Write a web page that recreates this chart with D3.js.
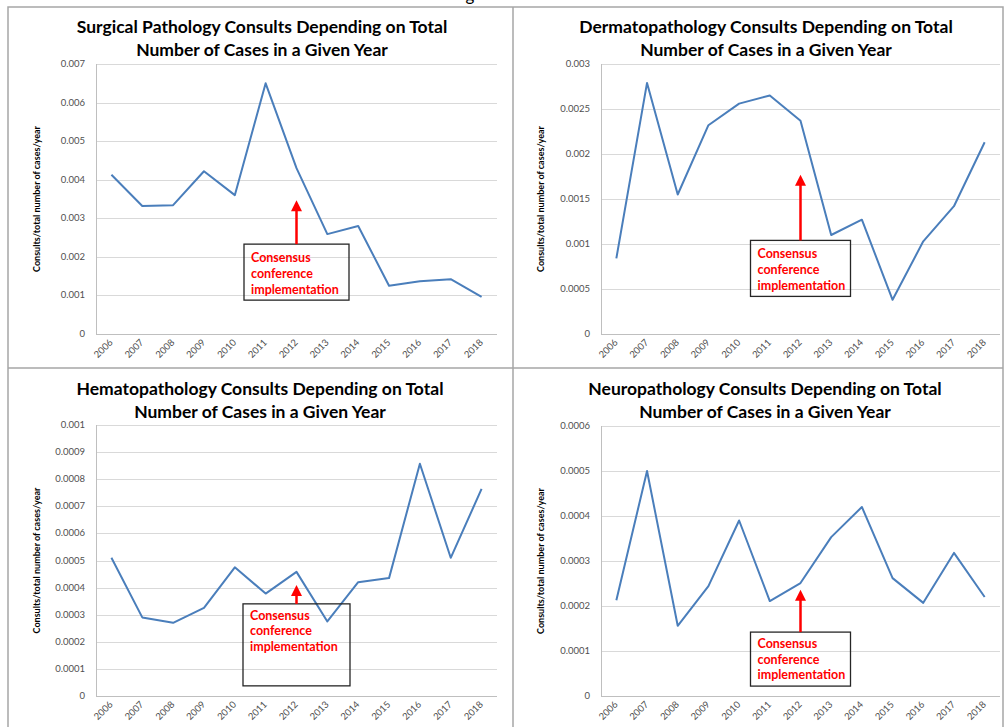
<!DOCTYPE html>
<html>
<head>
<meta charset="utf-8">
<script src="https://cdn.jsdelivr.net/npm/d3@7"></script>
<style>
	body { margin: 0; background: #fff; }
	svg { display: block; font-family: Lato, "Open Sans", sans-serif; }
	.grid line { stroke: #d9d9d9; stroke-width: 1; }
	.tick-label { fill: #505050; font-size: 9.5px; }
	.axis-title { font-size: 9px; font-weight: bold; fill: #000; }
	.panel-title { font-size: 17.5px; font-weight: bold; fill: #000; }
	.note { fill: #ff0000; font-size: 12.5px; font-weight: bold; }
</style>
</head>
<body>
<div id="chart"></div>
<script>
//Data
var years = ["2006", "2007", "2008", "2009", "2010", "2011", "2012", "2013", "2014", "2015", "2016", "2017", "2018"];
var surgical = [0.00413, 0.00332, 0.00334, 0.00422, 0.0036, 0.0065, 0.0043, 0.00259, 0.0028, 0.00125, 0.00137, 0.00142, 0.00096];
var dermato = [0.00084, 0.00279, 0.00155, 0.00232, 0.00256, 0.00265, 0.00237, 0.0011, 0.00127, 0.00038, 0.00103, 0.00142, 0.00213];
var hemato = [0.00051, 0.00029, 0.00027, 0.000325, 0.000475, 0.000378, 0.000458, 0.000275, 0.00042, 0.000435, 0.000857, 0.00051, 0.000764];
var neuro = [0.000213, 0.0005, 0.000156, 0.000244, 0.00039, 0.000211, 0.000251, 0.000353, 0.00042, 0.000262, 0.000207, 0.000318, 0.00022];
var surgicalTicks = [0, 0.001, 0.002, 0.003, 0.004, 0.005, 0.006, 0.007];
var dermatoTicks = [0, 0.0005, 0.001, 0.0015, 0.002, 0.0025, 0.003];
var hematoTicks = [0, 0.0001, 0.0002, 0.0003, 0.0004, 0.0005, 0.0006, 0.0007, 0.0008, 0.0009, 0.001];
var neuroTicks = [0, 0.0001, 0.0002, 0.0003, 0.0004, 0.0005, 0.0006];
var titles = [
	["Surgical Pathology Consults Depending on Total", "Number of Cases in a Given Year"],
	["Dermatopathology Consults Depending on Total", "Number of Cases in a Given Year"],
	["Hematopathology Consults Depending on Total", "Number of Cases in a Given Year"],
	["Neuropathology Consults Depending on Total", "Number of Cases in a Given Year"]
];
var yTitle = "Consults/total number of cases/year";
var noteLines = ["Consensus", "conference", "implementation"];
var noteYear = "2012";

var panels = [
	{title: titles[0], values: surgical, ticks: surgicalTicks, left: 96, right: 497, top: 64, bottom: 334, cx: 262, ty: 33, ax: 37,
		tip: 0.00347, boxTop: 0.00233, boxH: 56, boxW: 105, textTop: 18, lineH: 16},
	{title: titles[1], values: dermato, ticks: dermatoTicks, left: 601, right: 1000, top: 64, bottom: 334, cx: 766, ty: 33, ax: 541,
		tip: 0.00177, boxTop: 0.00104, boxH: 56, boxW: 100, textTop: 18, lineH: 16},
	{title: titles[2], values: hemato, ticks: hematoTicks, left: 96, right: 497, top: 425, bottom: 696, cx: 260, ty: 395, ax: 37,
		tip: 0.00041, boxTop: 0.00034, boxH: 82, boxW: 107, textTop: 16, lineH: 15.5},
	{title: titles[3], values: neuro, ticks: neuroTicks, left: 601, right: 1000, top: 426, bottom: 696, cx: 765, ty: 395, ax: 541,
		tip: 0.000236, boxTop: 0.000142, boxH: 54, boxW: 100, textTop: 16, lineH: 15.5}
];

var width = 1008, height = 727;
var svg = d3.select("#chart").append("svg")
	.attr("width", width)
	.attr("height", height);

//Cut-off text at the very top (only its descender shows, as in the source)
svg.append("text")
	.attr("x", 470).attr("y", 1)
	.attr("text-anchor", "middle")
	.style("font-size", "17px")
	.text("g");

//Frame
svg.append("rect")
	.attr("x", 8).attr("y", 7)
	.attr("width", 995).attr("height", 740)
	.attr("fill", "none").attr("stroke", "#a6a6a6").attr("stroke-width", 1.5);
svg.append("line")
	.attr("x1", 513).attr("x2", 513).attr("y1", 7).attr("y2", height)
	.attr("stroke", "#a6a6a6").attr("stroke-width", 1.5);
svg.append("line")
	.attr("x1", 8).attr("x2", 1003).attr("y1", 368).attr("y2", 368)
	.attr("stroke", "#a6a6a6").attr("stroke-width", 1.5);

var fmt = function(v) { return v === 0 ? "0" : String(+v.toFixed(5)); };

panels.forEach(function(p) {
	var g = svg.append("g");
	//Scales
	var x = d3.scalePoint()
		.domain(years)
		.range([p.left, p.right])
		.padding(0.5);
	var y = d3.scaleLinear()
		.domain([0, d3.max(p.ticks)])
		.range([p.bottom, p.top]);

	//Grid
	g.append("g").attr("class", "grid")
		.selectAll("line")
		.data(p.ticks.filter(function(d) { return d > 0; }))
		.enter().append("line")
		.attr("x1", p.left).attr("x2", p.right)
		.attr("y1", function(d) { return Math.round(y(d)) + 0.5; })
		.attr("y2", function(d) { return Math.round(y(d)) + 0.5; });

	//Axes
	g.append("line")
		.attr("x1", p.left + 0.5).attr("x2", p.left + 0.5)
		.attr("y1", p.top).attr("y2", p.bottom)
		.attr("stroke", "#bfbfbf");
	g.append("line")
		.attr("x1", p.left).attr("x2", p.right)
		.attr("y1", p.bottom + 0.5).attr("y2", p.bottom + 0.5)
		.attr("stroke", "#bfbfbf");
	g.selectAll(".ytick")
		.data(p.ticks)
		.enter().append("text")
		.attr("class", "tick-label")
		.attr("x", p.left - 11)
		.attr("y", function(d) { return y(d) + 3; })
		.attr("text-anchor", "end")
		.text(fmt);
	g.selectAll(".xtick")
		.data(years)
		.enter().append("text")
		.attr("class", "tick-label")
		.attr("text-anchor", "end")
		.attr("transform", function(d) { return "translate(" + (x(d) + 2) + "," + (p.bottom + 9) + ") rotate(-45)"; })
		.text(function(d) { return d; });

	//Titles
	g.selectAll(".panel-title")
		.data(p.title)
		.enter().append("text")
		.attr("class", "panel-title")
		.attr("x", p.cx)
		.attr("y", function(d, i) { return p.ty + i * 23; })
		.attr("text-anchor", "middle")
		.text(function(d) { return d; });
	g.append("text")
		.attr("class", "axis-title")
		.attr("text-anchor", "middle")
		.attr("transform", "translate(" + (p.ax + 3) + "," + ((p.top + p.bottom) / 2) + ") rotate(-90)")
		.text(yTitle);

	//Line
	var line = d3.line()
		.x(function(d, i) { return x(years[i]); })
		.y(function(d) { return y(d); });
	g.append("path")
		.datum(p.values)
		.attr("d", line)
		.attr("fill", "none")
		.attr("stroke", "#4a7ebb")
		.attr("stroke-width", 2)
		.attr("stroke-linejoin", "round");

	//Annotation
	var ax = x(noteYear);
	var boxY = y(p.boxTop);
	g.append("rect")
		.attr("x", ax - p.boxW / 2).attr("y", boxY)
		.attr("width", p.boxW).attr("height", p.boxH)
		.attr("fill", "none").attr("stroke", "#262626").attr("stroke-width", 1.3);
	g.append("line")
		.attr("x1", ax).attr("x2", ax)
		.attr("y1", boxY).attr("y2", y(p.tip) + 8)
		.attr("stroke", "#ff0000").attr("stroke-width", 2.5);
	g.append("path")
		.attr("d", "M" + ax + "," + y(p.tip) + "L" + (ax - 5.5) + "," + (y(p.tip) + 11) + "L" + (ax + 5.5) + "," + (y(p.tip) + 11) + "Z")
		.attr("fill", "#ff0000");
	g.selectAll(".note")
		.data(noteLines)
		.enter().append("text")
		.attr("class", "note")
		.attr("x", ax - p.boxW / 2 + 7)
		.attr("y", function(d, i) { return boxY + p.textTop + i * p.lineH; })
		.text(function(d) { return d; });
});
</script>
</body>
</html>
